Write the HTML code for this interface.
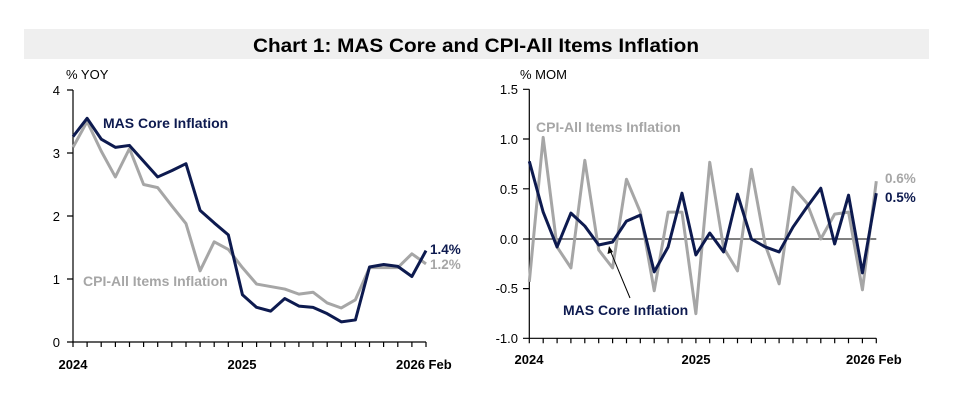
<!DOCTYPE html>
<html><head><meta charset="utf-8"><style>
html,body{margin:0;padding:0;background:#fff;}
svg{display:block;font-family:"Liberation Sans",sans-serif;}
</style></head><body>
<svg width="955" height="400" viewBox="0 0 955 400" xmlns="http://www.w3.org/2000/svg">
<rect x="24" y="29" width="905" height="30" fill="#efefef"/>
<text x="476" y="52" text-anchor="middle" font-size="19" font-weight="bold" textLength="446" lengthAdjust="spacingAndGlyphs" fill="#000">Chart 1: MAS Core and CPI-All Items Inflation</text>

<!-- LEFT CHART -->
<text x="66" y="79" font-size="13" fill="#000">% YOY</text>
<g font-size="13" fill="#000" text-anchor="end">
<text x="60" y="95">4</text><text x="60" y="158">3</text><text x="60" y="221">2</text><text x="60" y="284">1</text><text x="60" y="347">0</text>
</g>
<g stroke="#000" stroke-width="1.2" fill="none">
<line x1="73" y1="90" x2="73" y2="342"/>
<line x1="73" y1="342" x2="426" y2="342"/>
<path d="M67 90H73M67 153H73M67 216H73M67 279H73M67 342H73"/>
</g>
<g stroke="#000" stroke-width="1.2" id="lt">
<path d="M73 342v5M87.1 342v5M101.2 342v5M115.4 342v5M129.5 342v5M143.6 342v5M157.7 342v5M171.8 342v5M186 342v5M200.1 342v5M214.2 342v5M228.3 342v5M242.4 342v5M256.6 342v5M270.7 342v5M284.8 342v5M298.9 342v5M313 342v5M327.2 342v5M341.3 342v5M355.4 342v5M369.5 342v5M383.6 342v5M397.8 342v5M411.9 342v5M426 342v5"/>
</g>
<g font-size="13" font-weight="bold" fill="#000">
<text x="73" y="369" text-anchor="middle">2024</text>
<text x="242" y="369" text-anchor="middle">2025</text>
<text x="396" y="369">2026 Feb</text>
</g>
<g transform="translate(73,342) scale(14.12,-63)">
<polyline vector-effect="non-scaling-stroke" fill="none" stroke="#a6a6a6" stroke-width="3" stroke-linejoin="round" points="0,3.09 1,3.5 2,3.03 3,2.62 4,3.07 5,2.5 6,2.45 7,2.16 8,1.88 9,1.13 10,1.59 11,1.47 12,1.18 13,0.92 14,0.88 15,0.84 16,0.76 17,0.79 18,0.62 19,0.54 20,0.67 21,1.18 22,1.18 23,1.18 24,1.40 25,1.24"/>
<polyline vector-effect="non-scaling-stroke" fill="none" stroke="#0d1a4f" stroke-width="3" stroke-linejoin="round" points="0,3.26 1,3.55 2,3.22 3,3.09 4,3.12 5,2.87 6,2.62 7,2.72 8,2.83 9,2.09 10,1.89 11,1.70 12,0.75 13,0.55 14,0.49 15,0.69 16,0.57 17,0.55 18,0.45 19,0.32 20,0.35 21,1.19 22,1.23 23,1.20 24,1.04 25,1.45"/>
</g>
<text x="103" y="128" font-size="14" font-weight="bold" fill="#0d1a4f">MAS Core Inflation</text>
<text x="83" y="286" font-size="14" font-weight="bold" fill="#a6a6a6">CPI-All Items Inflation</text>
<text x="430" y="254" font-size="13.5" font-weight="bold" fill="#0d1a4f">1.4%</text>
<text x="430" y="269" font-size="13.5" font-weight="bold" fill="#a6a6a6">1.2%</text>

<!-- RIGHT CHART -->
<text x="520" y="79" font-size="13" fill="#000">% MOM</text>
<g font-size="13" fill="#000" text-anchor="end">
<text x="518" y="94">1.5</text><text x="518" y="144">1.0</text><text x="518" y="194">0.5</text><text x="518" y="244">0.0</text><text x="518" y="293">-0.5</text><text x="518" y="343">-1.0</text>
</g>
<g stroke="#000" stroke-width="1.2" fill="none">
<line x1="529.3" y1="89.3" x2="529.3" y2="338.3"/>
<line x1="529.3" y1="338.3" x2="876.3" y2="338.3"/>
<line x1="529.3" y1="239" x2="876.3" y2="239" stroke-width="1"/>
<path d="M523 89.3H529.3M523 139H529.3M523 188.8H529.3M523 239H529.3M523 288.6H529.3M523 338.3H529.3"/>
<path d="M529.3 338.3v5M543.2 338.3v5M557.1 338.3v5M570.9 338.3v5M584.8 338.3v5M598.7 338.3v5M612.6 338.3v5M626.5 338.3v5M640.3 338.3v5M654.2 338.3v5M668.1 338.3v5M682 338.3v5M695.9 338.3v5M709.7 338.3v5M723.6 338.3v5M737.5 338.3v5M751.4 338.3v5M765.3 338.3v5M779.1 338.3v5M793 338.3v5M806.9 338.3v5M820.8 338.3v5M834.7 338.3v5M848.5 338.3v5M862.4 338.3v5M876.3 338.3v5"/>
</g>
<g font-size="13" font-weight="bold" fill="#000">
<text x="529" y="364" text-anchor="middle">2024</text>
<text x="696" y="364" text-anchor="middle">2025</text>
<text x="846" y="364">2026 Feb</text>
</g>
<g transform="translate(529.3,239) scale(13.88,-99.6)">
<polyline vector-effect="non-scaling-stroke" fill="none" stroke="#a6a6a6" stroke-width="3" stroke-linejoin="round" points="0,-0.43 1,1.02 2,-0.08 3,-0.29 4,0.79 5,-0.11 6,-0.29 7,0.60 8,0.27 9,-0.52 10,0.27 11,0.27 12,-0.75 13,0.77 14,-0.09 15,-0.32 16,0.70 17,-0.06 18,-0.45 19,0.52 20,0.36 21,0.0 22,0.25 23,0.27 24,-0.51 25,0.58"/>
<polyline vector-effect="non-scaling-stroke" fill="none" stroke="#0d1a4f" stroke-width="3" stroke-linejoin="round" points="0,0.78 1,0.27 2,-0.08 3,0.26 4,0.13 5,-0.06 6,-0.03 7,0.18 8,0.24 9,-0.33 10,-0.08 11,0.46 12,-0.16 13,0.06 14,-0.13 15,0.45 16,0.0 17,-0.08 18,-0.13 19,0.12 20,0.32 21,0.51 22,-0.05 23,0.44 24,-0.34 25,0.46"/>
</g>
<text x="536" y="132" font-size="14" font-weight="bold" fill="#a6a6a6">CPI-All Items Inflation</text>
<text x="563" y="315" font-size="14" font-weight="bold" fill="#0d1a4f">MAS Core Inflation</text>
<line x1="630" y1="298" x2="610" y2="250" stroke="#000" stroke-width="1"/>
<path d="M609 246 L607.5 254 L613 252 Z" fill="#000"/>
<text x="885" y="183" font-size="13.5" font-weight="bold" fill="#a6a6a6">0.6%</text>
<text x="885" y="202" font-size="13.5" font-weight="bold" fill="#0d1a4f">0.5%</text>
</svg>
</body></html>
